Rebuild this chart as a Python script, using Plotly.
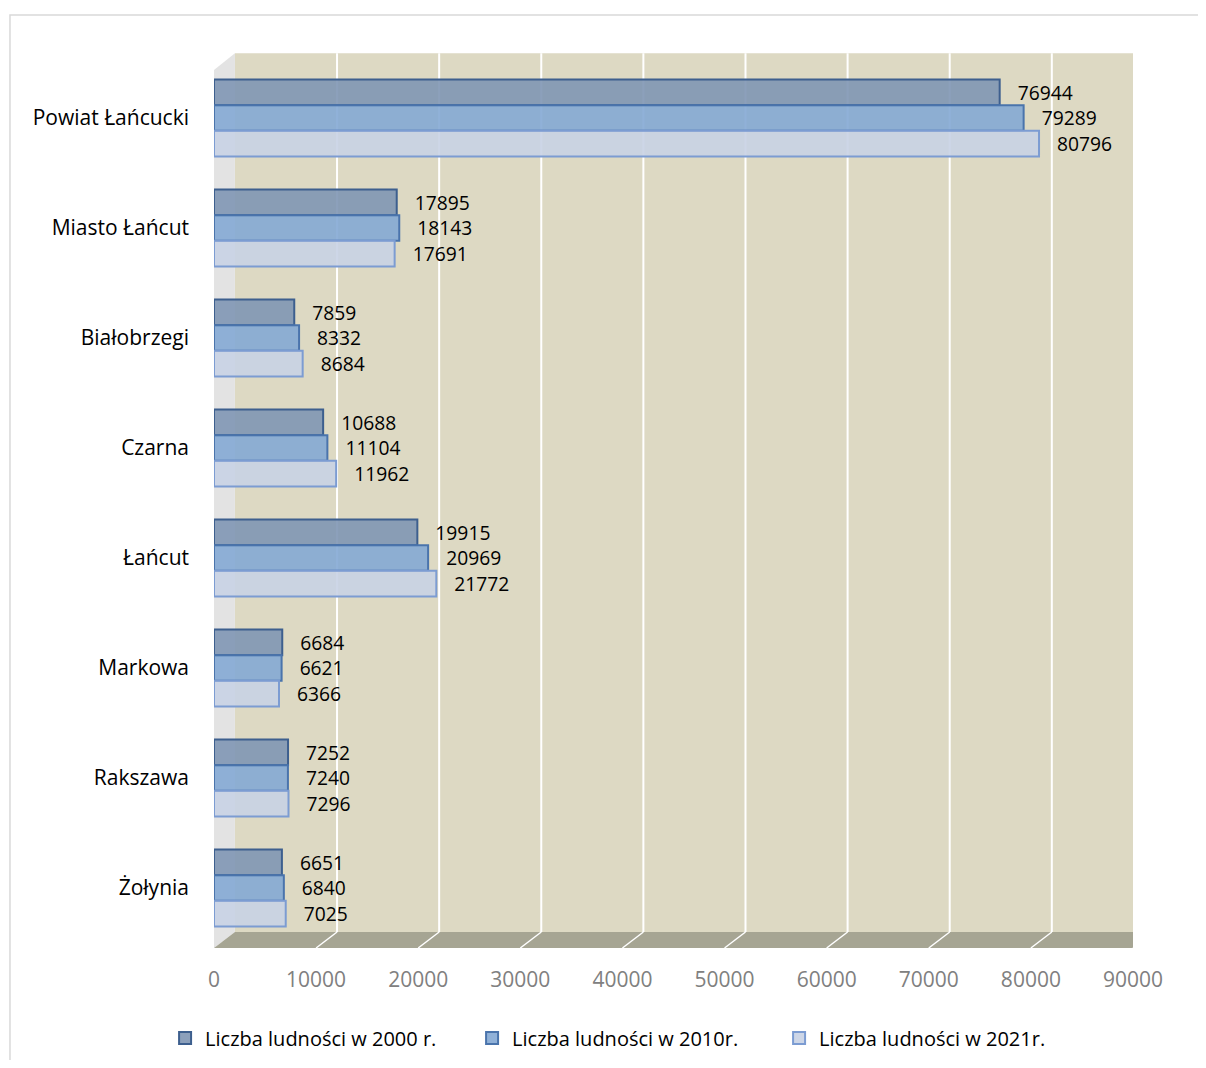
import plotly.graph_objects as go

categories = ["Powiat Łańcucki", "Miasto Łańcut", "Białobrzegi", "Czarna", "Łańcut", "Markowa", "Rakszawa", "Żołynia"]
pop_2000 = [76944, 17895, 7859, 10688, 19915, 6684, 7252, 6651]
pop_2010 = [79289, 18143, 8332, 11104, 20969, 6621, 7240, 6840]
pop_2021 = [80796, 17691, 8684, 11962, 21772, 6366, 7296, 7025]
series_names = ["Liczba ludności w 2000 r.", "Liczba ludności w 2010r.", "Liczba ludności w 2021r."]
tick_vals = [0, 10000, 20000, 30000, 40000, 50000, 60000, 70000, 80000, 90000]

FONT = "Open Sans"
FS = 21
fills = ["rgba(128,150,180,0.9)", "rgba(132,168,212,0.9)", "rgba(200,210,228,0.9)"]
edges = ["#3D5F8E", "#4A74AC", "#7C9CD2"]

fig = go.Figure()
for name, vals, fc, ec in zip(series_names, [pop_2000, pop_2010, pop_2021], fills, edges):
    fig.add_trace(go.Bar(
        y=categories, x=vals, name=name, orientation="h",
        marker=dict(color=fc, line=dict(color=ec, width=2)),
        text=["\u00a0\u00a0\u00a0" + str(v) for v in vals], textposition="outside", cliponaxis=False,
        textfont=dict(family=FONT, size=FS, color="black"),
    ))

off = 2050    # depth offset of back wall (data units)
yb = 0.0125   # back floor edge (paper)
yf = -0.0057  # front floor edge
yt = 1.011    # top of back wall
ytl = 0.992   # top of left wall front

shapes = []
shapes.append(dict(type="rect", xref="x", yref="paper", x0=off, x1=90000 + off, y0=yb, y1=yt,
                   fillcolor="#DDD9C3", line=dict(width=0), layer="below"))
shapes.append(dict(type="path", xref="x", yref="paper",
                   path=f"M 0 {yf} L 0 {ytl} L {off} {yt} L {off} {yb} Z",
                   fillcolor="#E3E3E3", line=dict(width=0), layer="below"))
shapes.append(dict(type="path", xref="x", yref="paper",
                   path=f"M 0 {yf} L 90000 {yf} L {90000 + off} {yb} L {off} {yb} Z",
                   fillcolor="#A6A593", line=dict(width=0), layer="below"))
for v in tick_vals[1:]:
    shapes.append(dict(type="line", xref="x", yref="paper", x0=v + off, x1=v + off, y0=yb, y1=yt,
                       line=dict(color="white", width=2), layer="below"))
    shapes.append(dict(type="line", xref="x", yref="paper", x0=v + off, x1=v, y0=yb, y1=yf,
                       line=dict(color="white", width=1.5), layer="below"))
shapes.append(dict(type="rect", xref="paper", yref="paper", x0=-0.222, x1=1.09, y0=-0.16, y1=1.0545,
                   line=dict(color="#D9D9D9", width=1.5), fillcolor="rgba(0,0,0,0)", layer="below"))

fig.update_layout(
    width=1190, height=1052,
    margin=dict(l=206, r=65, t=55, b=117, autoexpand=False),
    paper_bgcolor="white", plot_bgcolor="rgba(0,0,0,0)",
    barmode="group", bargap=0.3, bargroupgap=0.0,
    shapes=shapes,
    font=dict(family=FONT, size=FS, color="black"),
    xaxis=dict(range=[0, 90000], tickvals=tick_vals, ticktext=[str(v) for v in tick_vals],
               showgrid=False, zeroline=False, showline=False, automargin=False,
               tickfont=dict(family=FONT, size=FS, color="#808080"), ticklabelstandoff=22),
    yaxis=dict(autorange="reversed", showgrid=False, zeroline=False, showline=False, automargin=False,
               tickfont=dict(family=FONT, size=FS, color="black"), ticklabelstandoff=24),
    legend=dict(orientation="h", xref="container", yref="container", x=0.132, xanchor="left",
                y=0.021, yanchor="middle",
                font=dict(family=FONT, size=FS - 1, color="black"), traceorder="normal",
                entrywidth=262, entrywidthmode="pixels"),
    showlegend=True,
)

fig.write_html("out.html")
